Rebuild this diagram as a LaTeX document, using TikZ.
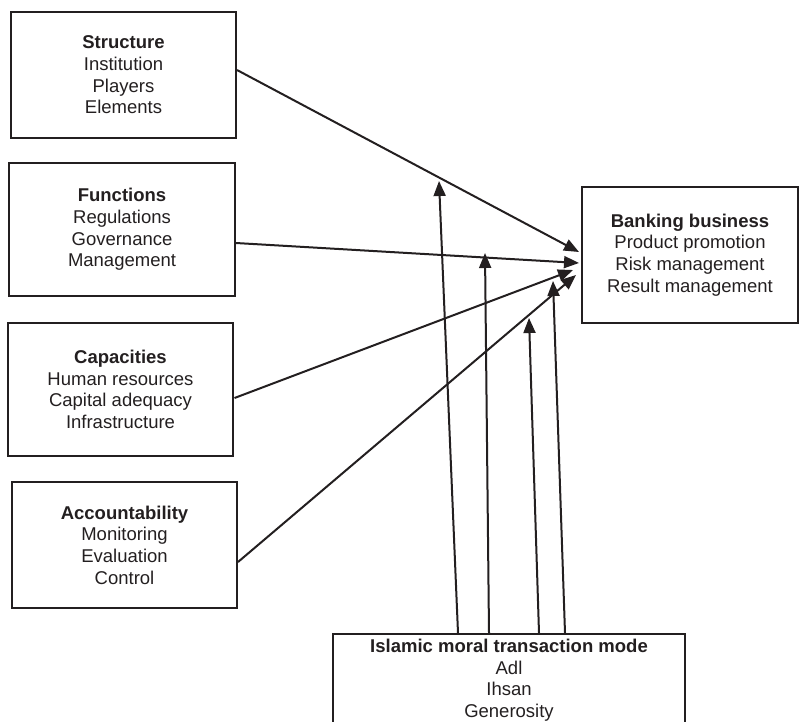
\documentclass[tikz,border=0pt]{standalone}
\usepackage{fontspec}
\setmainfont{Liberation Sans}
\usetikzlibrary{arrows.meta}
\definecolor{ink}{HTML}{231F20}
\begin{document}
\begin{tikzpicture}[x=1pt,y=-1pt,
  box/.style={draw=ink, line width=2pt, align=center, inner sep=0pt,
    font=\fontsize{18.5}{21.7}\selectfont, text=ink},
  conn/.style={draw=ink, line width=2pt, -{Triangle[length=15pt,width=12pt]}}]
\useasboundingbox (0,0) rectangle (799,721);
\clip (0,0) rectangle (799,721);
\node[box, minimum width=225pt, minimum height=126pt] (struct) at (123.5,75)
  {\textbf{Structure}\\Institution\\Players\\Elements};
\node[box, minimum width=226pt, minimum height=133pt] (func) at (122,229.5)
  {\textbf{Functions}\\Regulations\\Governance\\Management};
\node[box, minimum width=225pt, minimum height=133pt] (cap) at (120.5,389.5)
  {\textbf{Capacities}\\Human resources\\Capital adequacy\\Infrastructure};
\node[box, minimum width=225pt, minimum height=126pt] (acc) at (124.5,545)
  {\textbf{Accountability}\\Monitoring\\Evaluation\\Control};
\node[box, minimum width=216pt, minimum height=136pt] (bank) at (690,255)
  {\textbf{Banking business}\\Product promotion\\Risk management\\Result management};
\node[box, minimum width=352pt, inner ysep=5pt, anchor=north] (isl) at (509,633)
  {\textbf{Islamic moral transaction mode}\\Adl\\Ihsan\\Generosity};
% arrow tips near the banking box
\coordinate (t1) at (579,252);
\coordinate (t2) at (579,263);
\coordinate (t3) at (573,270);
\coordinate (t4) at (576,275);
\coordinate (v1) at (439,181);
\coordinate (v2) at (485,253);
\coordinate (v3) at (529,318);
\coordinate (v4) at (553,281);
\draw[conn] ([yshift=5pt]struct.east) -- (t1);
\draw[conn] ([yshift=-13.5pt]func.east) -- (t2);
\draw[conn] ([xshift=0.5pt,yshift=-8.5pt]cap.east) -- (t3);
\draw[conn] ([yshift=-17pt]acc.east) -- (t4);
\draw[conn] ([xshift=-51pt]isl.north) -- (v1);
\draw[conn] ([xshift=-20pt]isl.north) -- (v2);
\draw[conn] ([xshift=30pt]isl.north) -- (v3);
\draw[conn] ([xshift=56pt]isl.north) -- (v4);
\end{tikzpicture}
\end{document}
